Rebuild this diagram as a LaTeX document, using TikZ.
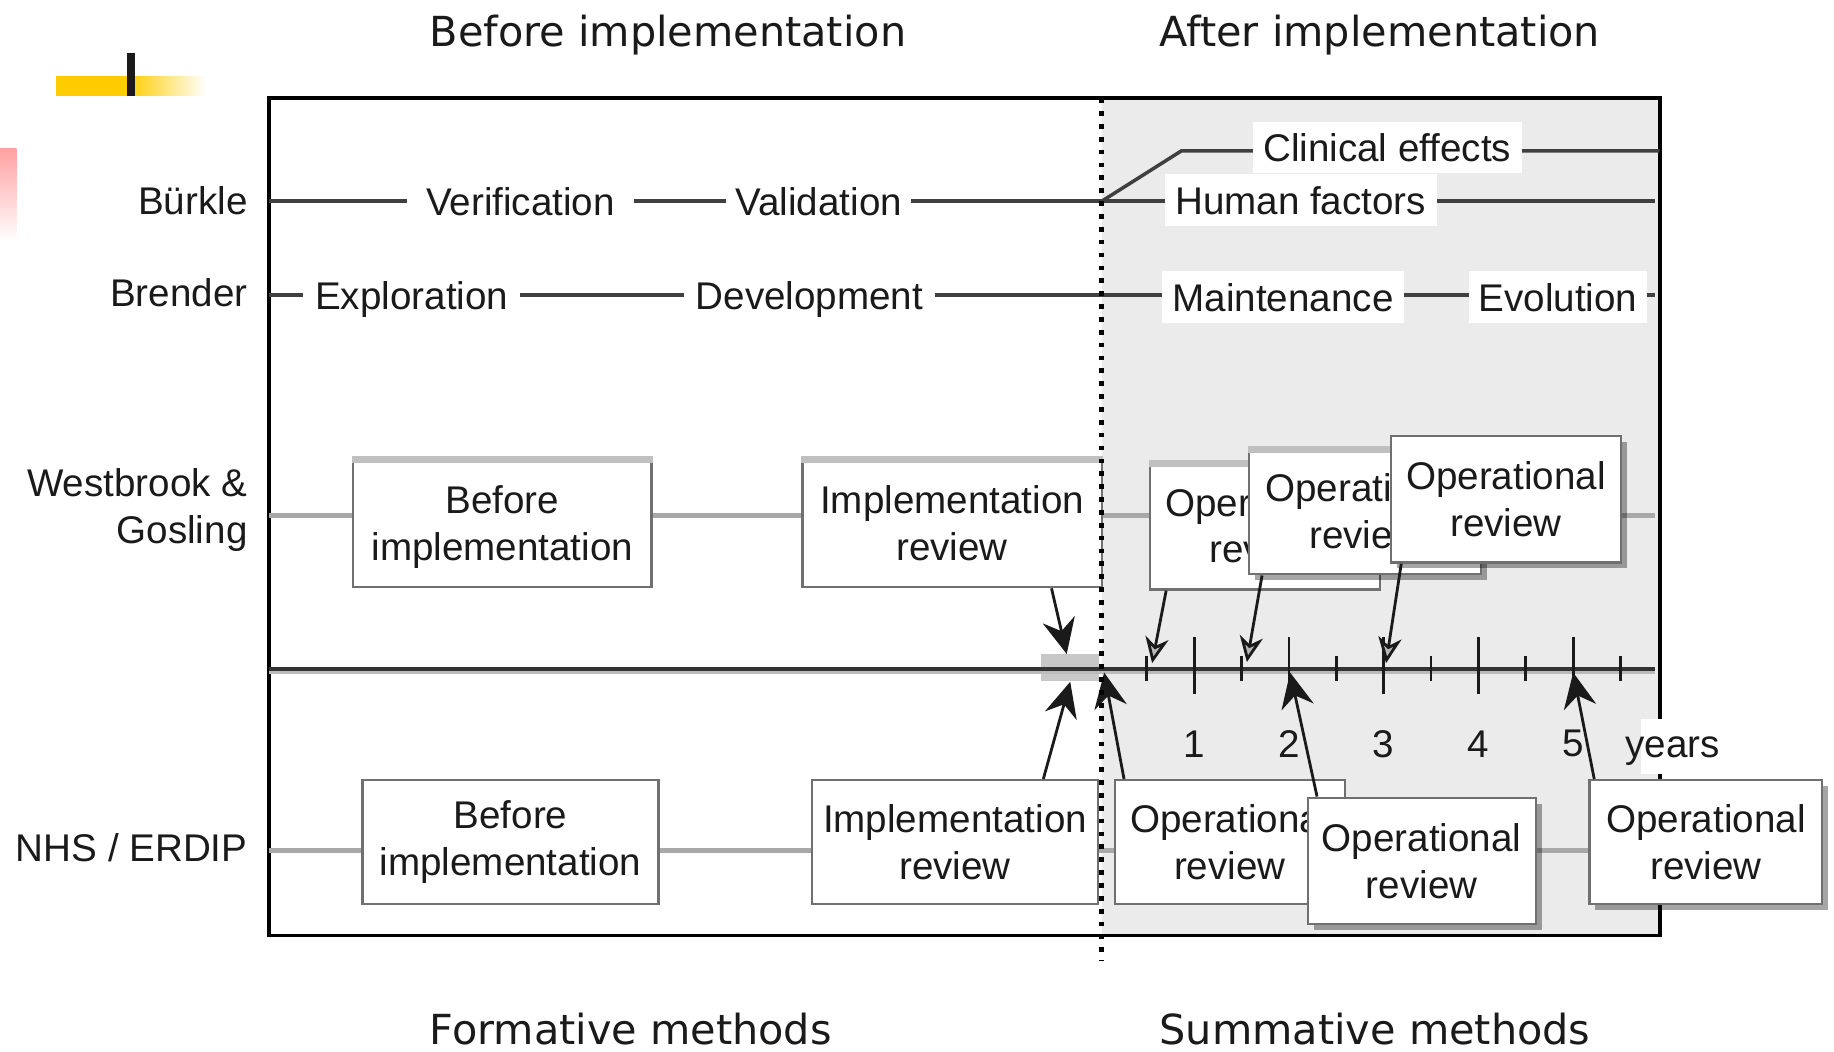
\documentclass[tikz,border=0pt]{standalone}
\usepackage{fontspec}
\setmainfont{Liberation Sans}
\newfontfamily\titlefont{DejaVu Sans}
\usetikzlibrary{arrows.meta,shadows}

\definecolor{shadebg}{HTML}{EBEBEB}
\definecolor{rowline}{HTML}{404040}
\definecolor{trackline}{HTML}{A8A8A8}
\definecolor{boxline}{HTML}{707070}
\definecolor{topbar}{HTML}{C0C0C0}
\definecolor{gapgray}{HTML}{C8C8C8}
\definecolor{gold}{HTML}{FFCC00}
\definecolor{rose}{HTML}{FFA0A0}
\definecolor{ink}{HTML}{1A1A1A}
\definecolor{axisdark}{HTML}{333333}
\definecolor{axislight}{HTML}{BBBBBB}

\begin{document}
\begin{tikzpicture}[x=0.5pt,y=-0.5pt,
  every node/.style={font=\fontsize{16.5}{20}\selectfont, text=ink},
  heading/.style={font=\titlefont\fontsize{17.7}{20}\selectfont, anchor=base west, inner sep=0pt},
  rowlabel/.style={anchor=east, align=right, inner sep=0pt},
  tag/.style={fill=white, inner ysep=5pt, inner xsep=#1, text height=12pt, text depth=0pt},
  tag/.default=5pt,
  rowl/.style={draw=rowline, line width=1.5pt},
  track/.style={draw=trackline, line width=2pt},
  box/.style={draw=boxline, line width=1pt, fill=white, align=center, inner sep=0pt},
  sz/.style 2 args={minimum width=#1*0.5pt, minimum height=#2*0.5pt},
  shadowed/.style={drop shadow={shadow xshift=2.5pt, shadow yshift=-2.5pt, opacity=0.35, fill=black}},
  bar/.style={draw=topbar, line width=3pt},
  arr/.style={draw=ink, line width=1.2pt, -{Stealth[length=15pt,width=14pt,inset=5pt]}},
  oparr/.style={draw=ink, line width=1.2pt, -{Stealth[length=11pt,width=10pt,inset=3.5pt,fill=gray!55]}},
  tick/.style={draw=ink, line width=1.2pt},
  dotline/.style={draw=black, line width=2pt, dash pattern=on 2pt off 3.5pt}
]
\useasboundingbox (0,0) rectangle (1568,899);

% corner ornament
\fill[gold] (48,65) rectangle (109,82);
\shade[left color=gold, right color=white] (109,65) rectangle (176,82);
\fill[ink] (109,45) rectangle (115,82);
\shade[top color=rose, bottom color=white] (0,127) rectangle (14,206);

% headings
\node[heading] (hbefore) at (367,40) {Before implementation};
\node[heading] (hafter) at (991,40) {After implementation};
\node[heading] (hform) at (367,893) {Formative methods};
\node[heading] (hsumm) at (991,893) {Summative methods};

% after-implementation area and frame
\fill[shadebg] (942,84) rectangle (1419,800);
\draw[black, line width=1.5pt] (230,84) rectangle (1419,800);

% row labels
\node[rowlabel] (lburkle) at (212,172) {Bürkle};
\node[rowlabel] (lbrender) at (212,250) {Brender};
\node[rowlabel] (lwestbrook) at (212,436) {Westbrook \&\hspace{4pt}\\Gosling};
\node[rowlabel] (lnhs) at (212,725) {NHS / ERDIP};

% Bürkle and Brender phases
\draw[rowl] (230,172) -- (1415,172);
\draw[rowl] (942,172) -- (1010,129) -- (1419,129);
\draw[rowl] (230,252) -- (1415,252);
\node[tag=8pt] (verif) at (445,172) {Verification};
\node[tag=4pt] (valid) at (700,172) {Validation};
\node[tag=4.5pt] (human) at (1112,171) {Human factors};
\node[tag=4.5pt] (clin) at (1186,126) {Clinical effects};
\node[tag=5pt] (explo) at (352,253) {Exploration};
\node[tag=5pt] (devel) at (692,253) {Development};
\node[tag=4.5pt] (maint) at (1097,254) {Maintenance};
\node[tag=4pt] (evol) at (1332,254) {Evolution};

% review tracks
\draw[track] (230,441) -- (1415,441);
\draw[track] (230,727) -- (1360,727);

% time axis
\node[fill=gapgray, minimum width=25pt, minimum height=11.5pt, inner sep=0pt] (gap) at (915,571) {};
\draw[axislight, line width=1.5pt] (230,575) -- (1415,575);
\draw[axisdark, line width=1.5pt] (230,572) -- (1415,572);
\foreach \k in {0,...,5} {
  \draw[tick] (980.5+81*\k,561) -- (980.5+81*\k,582);
}
\foreach \k in {1,...,5} {
  \draw[tick] (940+81*\k,545) -- (940+81*\k,593);
  \node (yr\k) at (940+81*\k,636) {\k};
}

% Westbrook & Gosling reviews
\node[box, sz={255}{110}, text depth=0pt] (wbbef) at (429.5,447) {Before\\implementation};
\draw[bar] ([yshift=-1pt]wbbef.north west) -- ([yshift=-1pt]wbbef.north east);
\node[box, sz={256}{110}] (wbimp) at (814,447) {Implementation\\review};
\draw[bar] ([yshift=-1pt]wbimp.north west) -- ([yshift=-1pt]wbimp.north east);
\node[box, sz={197}{109}] (wbop1) at (1081.5,449.5) {Operational\\review};
\draw[bar] ([yshift=-1pt]wbop1.north west) -- ([yshift=-1pt]wbop1.north east);
\node[box, sz={198}{108}, shadowed] (wbop2) at (1167,437) {Operational\\review};
\draw[bar] ([yshift=-1pt]wbop2.north west) -- ([yshift=-1pt]wbop2.north east);
\node[box, sz={197}{108}, shadowed] (wbop3) at (1287.5,427) {Operational\\review};

% NHS / ERDIP reviews
\node[box, sz={253}{106}] (nhbef) at (436.5,720) {Before\\implementation};
\node[box, sz={245}{106}] (nhimp) at (816.5,720) {Implementation\\review};
\node[box, sz={197}{106}] (nhop1) at (1051.5,720) {Operational\\review};
\node[box, sz={195}{108}, shadowed] (nhop2) at (1215.5,736) {Operational\\review};
\fill[white] (1403,615) rectangle (1480,662);
\node[inner sep=0pt] (years) at (1430,642) {years};
\node[box, sz={199}{106}, shadowed] (nhop4) at (1458.5,720) {Operational\\review};

% arrows onto the time axis
\coordinate (tipwb1) at (985,567);
\coordinate (tipwb2) at (1066,566);
\coordinate (tipwb3) at (1185,567);
\coordinate (tipnh1) at (944,575);
\coordinate (tipnh2) at (1103,575);
\coordinate (tipnh4) at (1345,575);
\draw[arr] ([xshift=107pt]wbimp.south west) -- ([xshift=-1.5pt]gap.north);
\draw[arr] ([xshift=99.5pt]nhimp.north west) -- (gap.south);
\draw[oparr] ([xshift=7.5pt]wbop1.south west) -- (tipwb1);
\draw[oparr] ([xshift=6pt]wbop2.south west) -- (tipwb2);
\draw[oparr] ([xshift=5pt]wbop3.south west) -- (tipwb3);
\draw[arr] ([xshift=4.5pt]nhop1.north west) -- (tipnh1);
\draw[arr] ([xshift=4.5pt]nhop2.north west) -- (tipnh2);
\draw[arr] ([xshift=2.5pt]nhop4.north west) -- (tipnh4);

% boundary between before and after implementation
\draw[dotline] (942,84) -- (942,822);
\end{tikzpicture}
\end{document}
